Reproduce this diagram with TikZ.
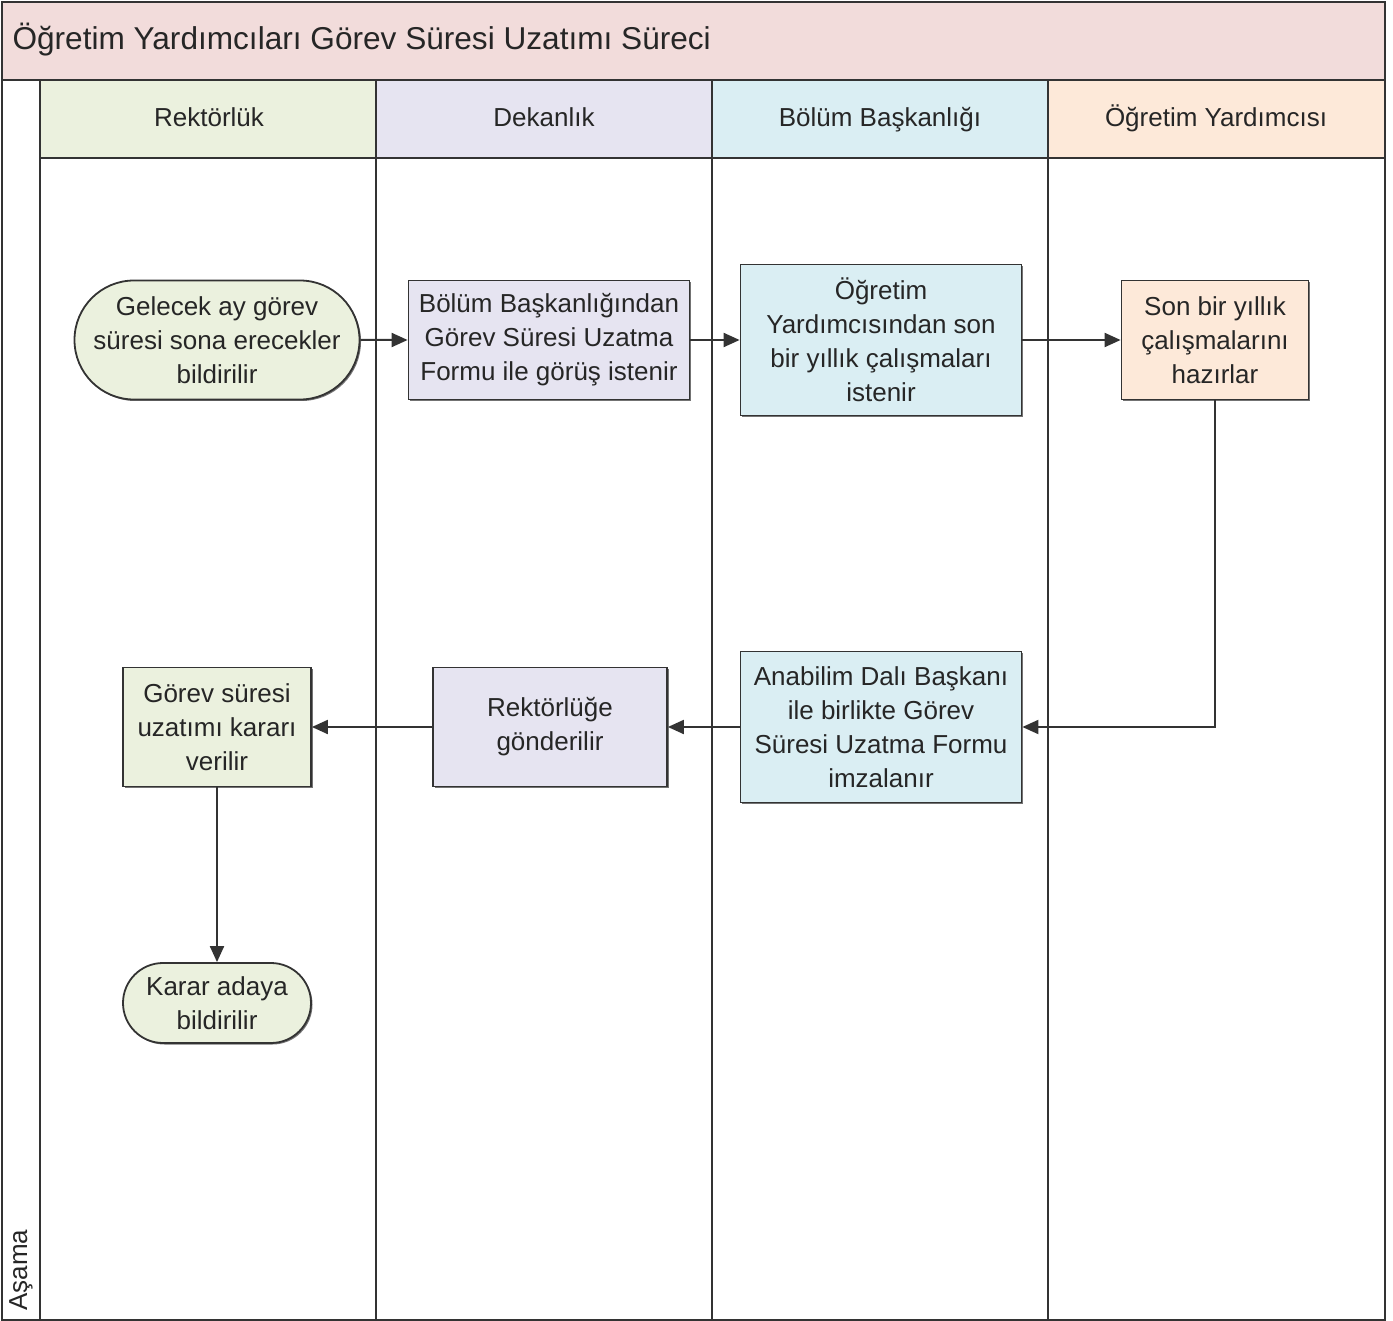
\documentclass[tikz,border=0pt]{standalone}
\usepackage{fontspec}
\setmainfont{Liberation Sans}
\usetikzlibrary{arrows.meta,shapes.misc,shadows}

\definecolor{titlepink}{HTML}{F2DCDB}
\definecolor{lanegreen}{HTML}{EBF1DE}
\definecolor{lanelav}{HTML}{E6E4F1}
\definecolor{laneblue}{HTML}{DAEEF3}
\definecolor{lanepeach}{HTML}{FDE9D9}
\definecolor{edgegray}{HTML}{333333}

\tikzset{
  frame/.style={draw=edgegray, line width=2pt},
  lanehead/.style={font=\fontsize{26}{30}\selectfont, text=black!85,
    text height=19pt, text depth=6pt},
  procbox/.style={draw=edgegray, line width=1.8pt, rectangle, align=center,
    font=\fontsize{26}{34}\selectfont, text=black!85, inner sep=0pt,
    drop shadow={shadow xshift=1.5pt, shadow yshift=-1.5pt, fill=black!55, opacity=1}},
  termbox/.style={procbox, rounded rectangle},
  flow/.style={draw=edgegray, line width=2pt, -{Triangle[length=16pt,width=14pt]}}
}

\begin{document}
\begin{tikzpicture}[x=1pt,y=-1pt]
\useasboundingbox (0,0) rectangle (1393,1321);
\fill[white] (0,0) rectangle (1393,1321);

% title band
\fill[titlepink] (2,2) rectangle (1385,80);
\node[anchor=west, font=\fontsize{31.6}{36}\selectfont, text=black!85] (title) at (9,40)
  {Öğretim Yardımcıları Görev Süresi Uzatımı Süreci};

% lane headers
\fill[lanegreen] (40,80) rectangle (376,158);
\fill[lanelav] (376,80) rectangle (712,158);
\fill[laneblue] (712,80) rectangle (1048,158);
\fill[lanepeach] (1048,80) rectangle (1385,158);
\node[lanehead] (h1) at (209,120) {Rektörlük};
\node[lanehead] (h2) at (544,120) {Dekanlık};
\node[lanehead] (h3) at (880,120) {Bölüm Başkanlığı};
\node[lanehead] (h4) at (1216,120) {Öğretim Yardımcısı};

% grid lines
\draw[frame] (2,2) rectangle (1385,1320);
\draw[frame] (2,80) -- (1385,80);
\draw[frame] (40,158) -- (1385,158);
\draw[frame] (40,80) -- (40,1320);
\draw[frame] (376,80) -- (376,1320);
\draw[frame] (712,80) -- (712,1320);
\draw[frame] (1048,80) -- (1048,1320);

% stage label
\node[rotate=90, font=\fontsize{26}{30}\selectfont, text=black!85] (stage) at (21,1270) {Aşama};

% process steps
\node[termbox, fill=lanegreen, minimum width=279pt, minimum height=119pt] (n1) at (217,340)
  {Gelecek ay görev\\süresi sona erecekler\\bildirilir};
\node[procbox, fill=lanelav, minimum width=281pt, minimum height=119pt] (n2) at (549,340)
  {Bölüm Başkanlığından\\Görev Süresi Uzatma\\Formu ile görüş istenir};
\node[procbox, fill=laneblue, minimum width=281pt, minimum height=151pt] (n3) at (881,340)
  {Öğretim\\Yardımcısından son\\bir yıllık çalışmaları\\istenir};
\node[procbox, fill=lanepeach, minimum width=187pt, minimum height=119pt] (n4) at (1215,340)
  {Son bir yıllık\\çalışmalarını\\hazırlar};
\node[procbox, fill=laneblue, minimum width=281pt, minimum height=151pt] (n5) at (881,727)
  {Anabilim Dalı Başkanı\\ile birlikte Görev\\Süresi Uzatma Formu\\imzalanır};
\node[procbox, fill=lanelav, minimum width=234pt, minimum height=119pt] (n6) at (550,727)
  {Rektörlüğe\\gönderilir};
\node[procbox, fill=lanegreen, minimum width=188pt, minimum height=119pt] (n7) at (217,727)
  {Görev süresi\\uzatımı kararı\\verilir};
\node[termbox, fill=lanegreen, minimum width=188pt, minimum height=80pt] (n8) at (217,1003)
  {Karar adaya\\bildirilir};

% connectors
\draw[flow] (n1) -- (n2);
\draw[flow] (n2) -- (n3);
\draw[flow] (n3) -- (n4);
\draw[flow] (n4.south) |- (n5.east);
\draw[flow] (n5) -- (n6);
\draw[flow] (n6) -- (n7);
\draw[flow] (n7) -- (n8);
\end{tikzpicture}
\end{document}
